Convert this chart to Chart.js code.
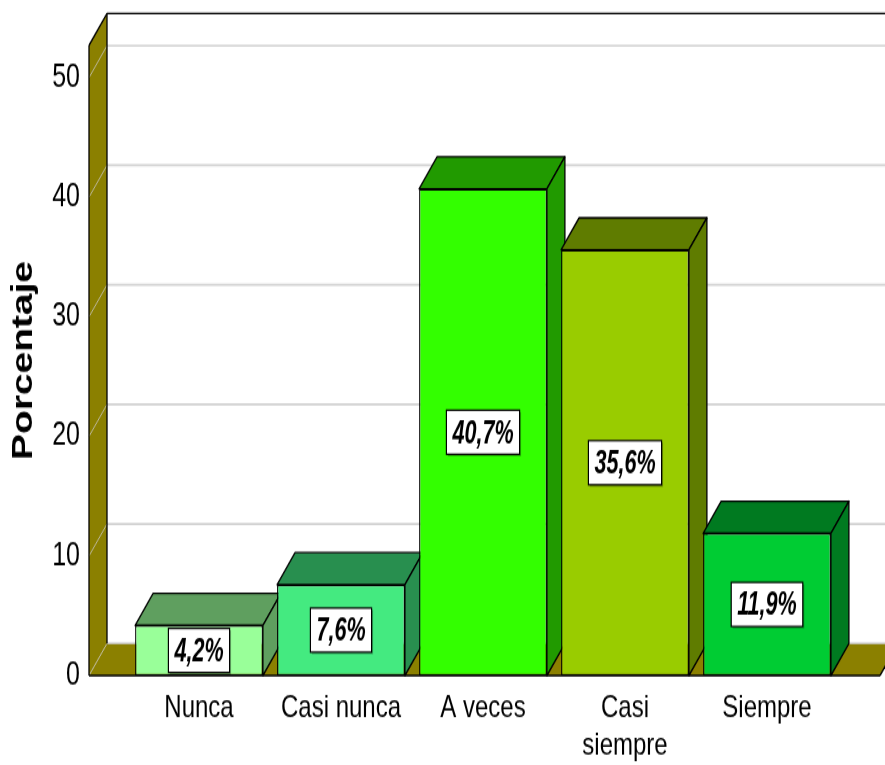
<!DOCTYPE html>
<html lang="es">
<head>
<meta charset="utf-8">
<title>Porcentaje</title>
<script src="https://cdn.jsdelivr.net/npm/chart.js@4.4.1/dist/chart.umd.min.js"></script>
<style>
  html, body { margin: 0; padding: 0; background: #fff; overflow: hidden; }
</style>
</head>
<body>
<!-- el lienzo se estira en vertical, como la exportacion original -->
<canvas id="grafico" width="885" height="590" style="display:block;width:885px;height:765px"></canvas>
<script>
// Datos
var categorias = ["Nunca", "Casi nunca", "A veces", ["Casi", "siempre"], "Siempre"];
var porcentajes = [4.2, 7.6, 40.7, 35.6, 11.9];
var marcasEje = [0, 10, 20, 30, 40, 50];

// Colores de cada barra (frente y caras laterales)
var coloresFrente = ["#99ff99", "#44ea80", "#33ff00", "#99cc00", "#00cc33"];
var coloresCara = ["#5f9f5f", "#288f4f", "#219a00", "#5f7c00", "#007a20"];

var FUENTE = "'Liberation Sans', Arial, Helvetica, sans-serif";
var OLIVA = "#8b8000";
var PROF_X = 18; // desplazamiento de la profundidad 3D
var PROF_Y = 24.7;

function formatoPorcentaje(v) {
  return v.toFixed(1).replace(".", ",") + "%";
}

function poligono(ctx, puntos) {
  ctx.beginPath();
  ctx.moveTo(puntos[0][0], puntos[0][1]);
  for (var i = 1; i < puntos.length; i++) {
    ctx.lineTo(puntos[i][0], puntos[i][1]);
  }
  ctx.closePath();
}

function linea(ctx, x1, y1, x2, y2) {
  ctx.beginPath();
  ctx.moveTo(x1, y1);
  ctx.lineTo(x2, y2);
  ctx.stroke();
}

// Pared, suelo, lineas de cuadricula y caras 3D de las barras
var fondo3D = {
  id: "fondo3D",
  beforeDatasetsDraw: function (chart) {
    var ctx = chart.ctx;
    var area = chart.chartArea;
    var escalaY = chart.scales.y;
    var muroX = area.left - 39;
    var sueloX = area.right + 42;
    var fin = chart.width;
    var arriba = area.top;
    var abajo = area.bottom;

    ctx.save();
    ctx.lineJoin = "round";

    // cuadricula de la pared del fondo
    ctx.strokeStyle = "#d2d2d2";
    ctx.lineWidth = 1.6;
    marcasEje.forEach(function (v) {
      var py = escalaY.getPixelForValue(v) - PROF_Y;
      linea(ctx, muroX + PROF_X, py, fin, py);
    });

    // pared izquierda
    poligono(ctx, [
      [muroX, arriba],
      [muroX + PROF_X, arriba - PROF_Y],
      [muroX + PROF_X, abajo - PROF_Y],
      [muroX, abajo],
    ]);
    ctx.fillStyle = OLIVA;
    ctx.fill();

    // suelo
    poligono(ctx, [
      [muroX, abajo],
      [muroX + PROF_X, abajo - PROF_Y],
      [sueloX + PROF_X, abajo - PROF_Y],
      [sueloX, abajo],
    ]);
    ctx.fill();

    // cuadricula sobre la pared izquierda
    ctx.strokeStyle = "#bdb99c";
    ctx.lineWidth = 1;
    marcasEje.forEach(function (v) {
      var py = escalaY.getPixelForValue(v);
      linea(ctx, muroX, py, muroX + PROF_X, py - PROF_Y);
    });
    ctx.strokeStyle = "#c8c8c8";
    linea(ctx, muroX + PROF_X, abajo - PROF_Y, fin, abajo - PROF_Y);

    // bordes negros
    ctx.strokeStyle = "#000";
    ctx.lineWidth = 1.3;
    linea(ctx, muroX, abajo, muroX, arriba);
    linea(ctx, muroX, arriba, muroX + PROF_X, arriba - PROF_Y);
    linea(ctx, muroX + PROF_X, arriba - PROF_Y, fin, arriba - PROF_Y);
    linea(ctx, muroX + PROF_X, arriba - PROF_Y, muroX + PROF_X, abajo - PROF_Y);
    linea(ctx, muroX, abajo, sueloX, abajo);
    linea(ctx, sueloX, abajo, sueloX + PROF_X, abajo - PROF_Y);

    // caras superior y lateral de cada barra
    var meta = chart.getDatasetMeta(0);
    meta.data.forEach(function (barra, i) {
      var izq = barra.x - barra.width / 2;
      var der = barra.x + barra.width / 2;
      var tope = barra.y;
      var base = barra.base;
      ctx.fillStyle = coloresCara[i];
      poligono(ctx, [
        [izq, tope],
        [izq + PROF_X, tope - PROF_Y],
        [der + PROF_X, tope - PROF_Y],
        [der, tope],
      ]);
      ctx.fill();
      ctx.stroke();
      poligono(ctx, [
        [der, tope],
        [der + PROF_X, tope - PROF_Y],
        [der + PROF_X, base - PROF_Y],
        [der, base],
      ]);
      ctx.fill();
      ctx.stroke();
    });
    ctx.restore();
  },
};

// Etiquetas con el porcentaje en el centro de cada barra
var etiquetasValor = {
  id: "etiquetasValor",
  afterDatasetsDraw: function (chart) {
    var ctx = chart.ctx;
    var meta = chart.getDatasetMeta(0);
    var estrecho = 0.83;
    ctx.save();
    ctx.font = "italic bold 26px " + FUENTE;
    meta.data.forEach(function (barra, i) {
      var texto = formatoPorcentaje(porcentajes[i]);
      var ancho = ctx.measureText(texto).width * estrecho + 12;
      var alto = 34;
      var cx = barra.x;
      var cy = (barra.y + barra.base) / 2;
      ctx.fillStyle = "rgba(0, 0, 0, 0.28)";
      ctx.fillRect(cx - ancho / 2 + 1.5, cy - alto / 2 + 1.5, ancho, alto);
      ctx.fillStyle = "#fff";
      ctx.fillRect(cx - ancho / 2, cy - alto / 2, ancho, alto);
      ctx.strokeStyle = "#000";
      ctx.lineWidth = 1.2;
      ctx.strokeRect(cx - ancho / 2, cy - alto / 2, ancho, alto);

      ctx.save();
      ctx.translate(cx, cy + 1);
      ctx.scale(estrecho, 1);
      ctx.fillStyle = "#000";
      ctx.textAlign = "center";
      ctx.textBaseline = "middle";
      ctx.fillText(texto, 0, 0);
      ctx.restore();
    });
    ctx.restore();
  },
};

document.addEventListener("DOMContentLoaded", function () {
  var ctx = document.getElementById("grafico").getContext("2d");

  new Chart(ctx, {
    type: "bar",
    data: {
      labels: categorias,
      datasets: [
        {
          label: "Porcentaje",
          data: porcentajes,
          backgroundColor: coloresFrente,
          borderColor: "#000",
          borderWidth: 1.3,
          borderSkipped: false,
          barPercentage: 0.9,
          categoryPercentage: 1.0,
        },
      ],
    },
    options: {
      responsive: false,
      devicePixelRatio: 1,
      animation: false,
      layout: {
        padding: { top: 35, right: 47, bottom: 0, left: 0 },
      },
      plugins: {
        legend: { display: false },
        tooltip: { enabled: false },
      },
      scales: {
        x: {
          offset: true,
          grid: { display: false, drawTicks: false },
          border: { display: false },
          ticks: {
            color: "#000",
            autoSkip: false,
            maxRotation: 0,
            padding: 11,
            font: { family: FUENTE, size: 24, lineHeight: 1.2 },
          },
          afterFit: function (escala) {
            escala.height = 69;
          },
        },
        y: {
          min: 0,
          max: 52.7,
          grid: { display: false, drawTicks: false },
          border: { display: false },
          afterBuildTicks: function (escala) {
            escala.ticks = marcasEje.map(function (v) {
              return { value: v };
            });
          },
          ticks: {
            color: "#000",
            padding: 48,
            font: { family: FUENTE, size: 25 },
          },
          title: {
            display: true,
            text: "Porcentaje",
            color: "#000",
            padding: { top: 6, bottom: 0 },
            font: { family: FUENTE, size: 30, weight: "bold" },
          },
          afterFit: function (escala) {
            // el margen grande de las marcas no debe empujar el area hacia abajo
            escala.width = 128;
            escala.paddingTop = 0;
            escala.paddingBottom = 0;
          },
        },
      },
    },
    plugins: [fondo3D, etiquetasValor],
  });
});
</script>
</body>
</html>
